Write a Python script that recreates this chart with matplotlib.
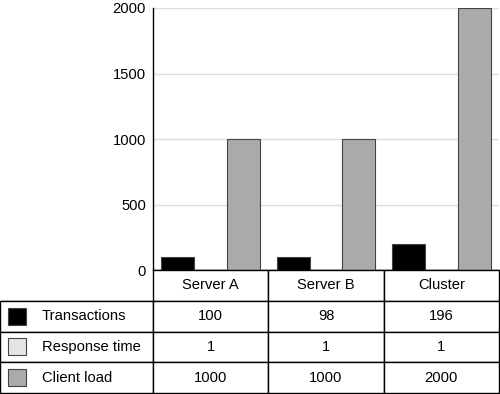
import matplotlib.pyplot as plt
from matplotlib.patches import Rectangle

plt.rcParams['font.family'] = ['Liberation Sans', 'DejaVu Sans']

columns = ['Server A', 'Server B', 'Cluster']
series = ['Transactions', 'Response time', 'Client load']
transactions = [100, 98, 196]
response_time = [1, 1, 1]
client_load = [1000, 1000, 2000]
colors = ['#000000', '#e4e4e4', '#aaaaaa']
yticks = [0, 500, 1000, 1500, 2000]

values = [transactions, response_time, client_load]

fig = plt.figure(figsize=(5, 3.94), dpi=100)

# bar chart
ax = fig.add_axes([0.306, 0.3147, 0.692, 0.665])
w = 0.286
x = range(len(columns))
for i, (vals, c) in enumerate(zip(values, colors)):
    ax.bar([k + (i - 1) * w for k in x], vals, width=w, color=c,
           edgecolor='#444444', linewidth=0.8, zorder=3)
ax.set_xlim(-0.5, 2.5)
ax.set_ylim(0, 2000)
ax.set_yticks(yticks)
ax.set_xticks([])
ax.yaxis.grid(True, color='#dddddd', linewidth=1, zorder=0)
ax.tick_params(axis='y', length=0, pad=5, labelsize=10.6)
for s in ['top', 'right']:
    ax.spines[s].set_visible(False)
ax.spines['left'].set_linewidth(1)
ax.spines['bottom'].set_linewidth(1)

# table
tax = fig.add_axes([0, 0.0025, 0.998, 0.3122])
tax.axis('off')
cell_text = [[''] + columns]
for name, vals in zip(series, values):
    cell_text.append([name] + [str(v) for v in vals])
tbl = tax.table(cellText=cell_text, cellLoc='center', bbox=[0, 0, 1, 1],
                colWidths=[153, 115.3, 115.3, 115.3])
tbl.auto_set_font_size(False)
tbl.set_fontsize(10.6)
for (r, c), cell in tbl.get_celld().items():
    cell.set_edgecolor('black')
    cell.set_linewidth(1)
    if r == 0 and c == 0:
        cell.visible_edges = 'B'
    if c == 0 and r > 0:
        cell.PAD = 42 / 153
        cell._loc = 'left'
        cell.get_text().set_ha('left')

# colour keys in the row label cells
nrows = len(cell_text)
for i, c in enumerate(colors):
    yc = 1 - (i + 1.5) / nrows
    sq_h = 17 / 123
    tax.add_patch(Rectangle((8 / 499, yc - sq_h / 2), 18 / 499, sq_h,
                            facecolor=c, edgecolor='#444444', linewidth=0.8,
                            transform=tax.transAxes, zorder=5, clip_on=False))

fig.savefig('out.png', dpi=100)
